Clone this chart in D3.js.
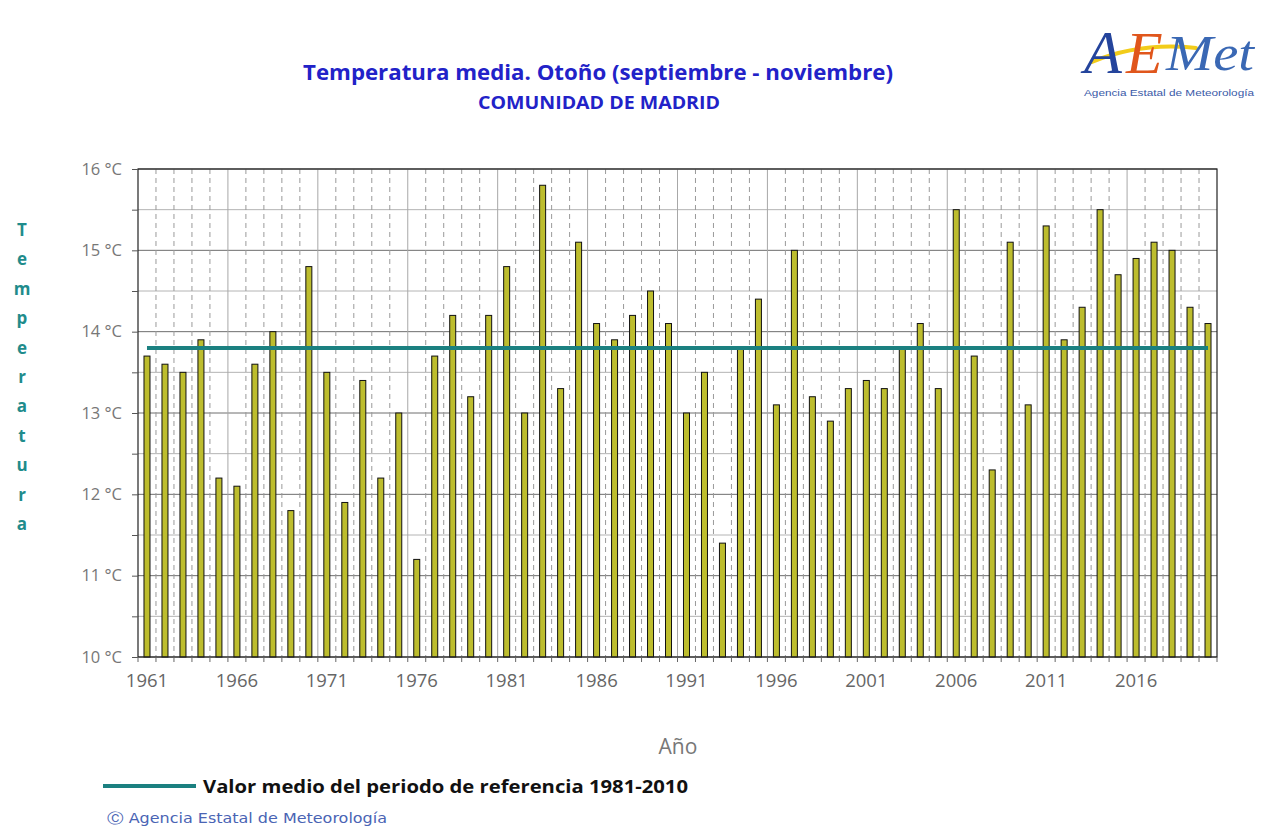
<!DOCTYPE html>
<html>
<head>
<meta charset="utf-8">
<script src="https://cdn.jsdelivr.net/npm/d3@7"></script>
<style>
  body { margin: 0; background: #fff; }
  svg { display: block; }
</style>
</head>
<body>
<script>

const years = [1961,1962,1963,1964,1965,1966,1967,1968,1969,1970,
               1971,1972,1973,1974,1975,1976,1977,1978,1979,1980,
               1981,1982,1983,1984,1985,1986,1987,1988,1989,1990,
               1991,1992,1993,1994,1995,1996,1997,1998,1999,2000,
               2001,2002,2003,2004,2005,2006,2007,2008,2009,2010,
               2011,2012,2013,2014,2015,2016,2017,2018,2019,2020];

const temps = [13.7,13.6,13.5,13.9,12.2,12.1,13.6,14.0,11.8,14.8,
               13.5,11.9,13.4,12.2,13.0,11.2,13.7,14.2,13.2,14.2,
               14.8,13.0,15.8,13.3,15.1,14.1,13.9,14.2,14.5,14.1,
               13.0,13.5,11.4,13.8,14.4,13.1,15.0,13.2,12.9,13.3,
               13.4,13.3,13.8,14.1,13.3,15.5,13.7,12.3,15.1,13.1,
               15.3,13.9,14.3,15.5,14.7,14.9,15.1,15.0,14.3,14.1];

const refMean = 13.8; // 1981-2010
const yTicks = [10,10.5,11,11.5,12,12.5,13,13.5,14,14.5,15,15.5,16];
const labelYears = [1961,1966,1971,1976,1981,1986,1991,1996,2001,2006,2011,2016];

const width = 1266;
const height = 828;
const plotLeft = 138, plotRight = 1217, plotTop = 169, plotBottom = 657;

const data = years.map((y, i) => ({year: y, temp: temps[i]}));

const xScale = d3.scaleBand()
    .domain(years)
    .range([plotLeft, plotRight]);

const yScale = d3.scaleLinear()
    .domain([10, 16])
    .range([plotBottom, plotTop]);

const svg = d3.select('body').append('svg')
    .attr('width', width)
    .attr('height', height);

// titles
svg.append('text')
    .attr('x', 598).attr('y', 80)
    .attr('text-anchor', 'middle')
    .attr('font-family', 'Open Sans, sans-serif')
    .attr('font-weight', 'bold')
    .attr('font-size', 21)
    .attr('fill', '#2222c8')
    .attr('textLength', 590)
    .attr('lengthAdjust', 'spacingAndGlyphs')
    .text('Temperatura media. Otoño (septiembre - noviembre)');

svg.append('text')
    .attr('x', 599).attr('y', 109)
    .attr('text-anchor', 'middle')
    .attr('font-family', 'Open Sans, sans-serif')
    .attr('font-weight', 'bold')
    .attr('font-size', 17)
    .attr('fill', '#2222c8')
    .attr('textLength', 242)
    .attr('lengthAdjust', 'spacingAndGlyphs')
    .text('COMUNIDAD DE MADRID');

// logo
const logo = svg.append('g').attr('font-family', 'Liberation Serif, serif').attr('font-style', 'italic');
logo.append('path')
    .attr('d', 'M1092,62 Q1140,42 1196,48')
    .attr('fill', 'none')
    .attr('stroke', '#f2cc1a')
    .attr('stroke-width', 4)
    .attr('stroke-linecap', 'round');
logo.append('text').attr('x', 1084).attr('y', 73).attr('font-size', 62).attr('fill', '#24449c').text('A');
logo.append('text').attr('x', 1126).attr('y', 73).attr('font-size', 60).attr('fill', '#e0561c').text('E');
logo.append('text').attr('x', 1166).attr('y', 70).attr('font-size', 50).attr('fill', '#3a68b4')
    .attr('textLength', 88).attr('lengthAdjust', 'spacingAndGlyphs').text('Met');
svg.append('text')
    .attr('x', 1084).attr('y', 96)
    .attr('font-family', 'Liberation Sans Narrow, Liberation Sans, sans-serif')
    .attr('font-size', 9.5)
    .attr('fill', '#3a5aa8')
    .attr('textLength', 170)
    .attr('lengthAdjust', 'spacingAndGlyphs')
    .text('Agencia Estatal de Meteorología');

// horizontal grid
svg.append('g')
    .selectAll('line')
    .data(yTicks)
    .enter().append('line')
        .attr('x1', plotLeft).attr('x2', plotRight)
        .attr('y1', d => yScale(d)).attr('y2', d => yScale(d))
        .attr('stroke', d => Number.isInteger(d) ? '#6e6e6e' : '#b4b4b4')
        .attr('stroke-width', 1);

// vertical grid at band boundaries
svg.append('g')
    .selectAll('line')
    .data(years.slice(1))
    .enter().append('line')
        .attr('x1', d => xScale(d)).attr('x2', d => xScale(d))
        .attr('y1', plotTop).attr('y2', plotBottom)
        .attr('stroke', d => labelYears.includes(d) ? '#a8a8a8' : '#9a9a9a')
        .attr('stroke-dasharray', d => labelYears.includes(d) ? null : '5,4')
        .attr('stroke-width', 1);

// bars
const bw = 6;
svg.append('g')
    .selectAll('rect')
    .data(data)
    .enter().append('rect')
        .attr('x', d => xScale(d.year) + xScale.bandwidth() / 2 - bw / 2)
        .attr('y', d => yScale(d.temp))
        .attr('width', bw)
        .attr('height', d => plotBottom - yScale(d.temp))
        .attr('fill', '#bdbd2e')
        .attr('stroke', '#111')
        .attr('stroke-width', 1);

// reference line
const refLine = d3.line()
    .x(d => xScale(d) + xScale.bandwidth() / 2)
    .y(() => yScale(refMean));
svg.append('path')
    .datum([years[0], years[years.length - 1]])
    .attr('d', refLine)
    .attr('fill', 'none')
    .attr('stroke', '#1b8080')
    .attr('stroke-width', 4);

// frame
svg.append('rect')
    .attr('x', plotLeft).attr('y', plotTop)
    .attr('width', plotRight - plotLeft).attr('height', plotBottom - plotTop)
    .attr('fill', 'none')
    .attr('stroke', '#222')
    .attr('stroke-width', 1.2);

// y axis
const yAxis = svg.append('g')
    .attr('transform', `translate(${plotLeft},0)`)
    .call(d3.axisLeft(yScale)
        .tickValues(yTicks)
        .tickSize(6)
        .tickPadding(10)
        .tickFormat(d => Number.isInteger(d) ? d + ' °C' : ''));
yAxis.select('.domain').remove();
yAxis.selectAll('line').attr('stroke', '#555');
yAxis.selectAll('text')
    .attr('font-family', 'Open Sans, sans-serif')
    .attr('font-size', 16.5)
    .attr('fill', '#777');

// x axis ticks at boundaries
svg.append('g')
    .selectAll('line')
    .data(years.concat([2021]))
    .enter().append('line')
        .attr('x1', d => d === 2021 ? plotRight : xScale(d))
        .attr('x2', d => d === 2021 ? plotRight : xScale(d))
        .attr('y1', plotBottom).attr('y2', plotBottom + 5)
        .attr('stroke', '#666');

// x axis labels
const xAxis = svg.append('g')
    .attr('transform', `translate(0,${plotBottom})`)
    .call(d3.axisBottom(xScale)
        .tickValues(labelYears)
        .tickSize(0)
        .tickPadding(17));
xAxis.select('.domain').remove();
xAxis.selectAll('text')
    .attr('font-family', 'Open Sans, sans-serif')
    .attr('font-size', 18.5)
    .attr('fill', '#666');

// y title, stacked letters
const yTitle = 'Temperatura'.split('');
svg.append('g')
    .selectAll('text')
    .data(yTitle)
    .enter().append('text')
        .attr('x', 22)
        .attr('y', (d, i) => 236 + i * 29.4)
        .attr('text-anchor', 'middle')
        .attr('font-family', 'Open Sans, sans-serif')
        .attr('font-weight', 'bold')
        .attr('font-size', 17)
        .attr('fill', '#1f8c8c')
        .text(d => d);

// x title
svg.append('text')
    .attr('x', 678).attr('y', 754)
    .attr('text-anchor', 'middle')
    .attr('font-family', 'Open Sans, sans-serif')
    .attr('font-size', 21)
    .attr('fill', '#777')
    .text('Año');

// legend
svg.append('line')
    .attr('x1', 103).attr('x2', 196)
    .attr('y1', 786).attr('y2', 786)
    .attr('stroke', '#1b8080')
    .attr('stroke-width', 4);
svg.append('text')
    .attr('x', 203).attr('y', 793)
    .attr('font-family', 'Open Sans, sans-serif')
    .attr('font-weight', 'bold')
    .attr('font-size', 18.5)
    .attr('fill', '#111')
    .attr('textLength', 485)
    .attr('lengthAdjust', 'spacingAndGlyphs')
    .text('Valor medio del periodo de referencia 1981-2010');

// copyright
svg.append('text')
    .attr('x', 107).attr('y', 823)
    .attr('font-family', 'DejaVu Sans, sans-serif')
    .attr('font-size', 13.5)
    .attr('fill', '#4a64b4')
    .attr('textLength', 280)
    .attr('lengthAdjust', 'spacingAndGlyphs')
    .text('Ⓒ Agencia Estatal de Meteorología');

</script>
</body>
</html>
